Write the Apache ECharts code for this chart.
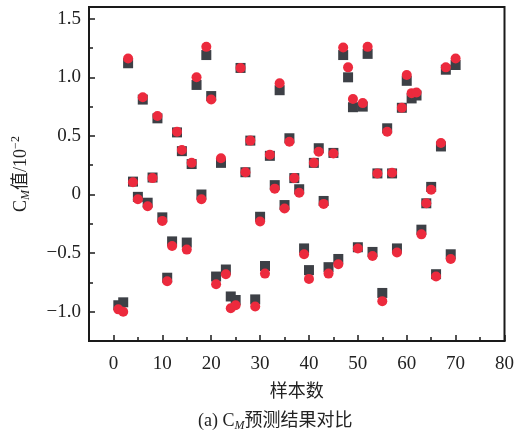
<!DOCTYPE html>
<html>
<head>
<meta charset="utf-8">
<script src="https://cdn.jsdelivr.net/npm/echarts@6/dist/echarts.min.js"></script>
<style>
html, body { margin: 0; padding: 0; background: #fff; }
#main { width: 517px; height: 430px; }
</style>
</head>
<body>
<div id="main"></div>
<script>
// C_M values, sample 1..70
var measured = [-0.945, -0.92, 1.12, 0.11, -0.02, 0.81, -0.07, 0.145, 0.65, -0.195,
    -0.71, -0.40, 0.53, 0.37, -0.41, 0.26, 0.935, 0.0, 1.19, 0.84,
    -0.70, 0.27, -0.64, -0.87, -0.90, 1.08, 0.19, 0.46, -0.895, -0.19,
    -0.61, 0.33, 0.08, 0.89, -0.09, 0.48, 0.14, 0.045, -0.46, -0.645,
    0.27, 0.395, -0.055, -0.62, 0.355, -0.55, 1.19, 1.0, 0.745, -0.45,
    0.75, 1.20, -0.49, 0.18, -0.84, 0.565, 0.18, -0.46, 0.74, 0.97,
    0.82, 0.845, -0.30, -0.075, 0.065, -0.68, 0.41, 1.065, -0.51, 1.105];
var predicted = [-0.98, -1.0, 1.16, 0.105, -0.04, 0.83, -0.10, 0.14, 0.67, -0.225,
    -0.74, -0.44, 0.535, 0.38, -0.47, 0.27, 1.0, -0.04, 1.26, 0.81,
    -0.765, 0.31, -0.68, -0.97, -0.945, 1.08, 0.19, 0.46, -0.955, -0.23,
    -0.675, 0.34, 0.05, 0.95, -0.12, 0.45, 0.14, 0.015, -0.51, -0.72,
    0.27, 0.365, -0.08, -0.675, 0.35, -0.595, 1.255, 1.085, 0.815, -0.46,
    0.78, 1.26, -0.525, 0.18, -0.91, 0.535, 0.185, -0.495, 0.74, 1.02,
    0.865, 0.87, -0.34, -0.075, 0.04, -0.70, 0.44, 1.085, -0.55, 1.16];
var xTicks = [0, 10, 20, 30, 40, 50, 60, 70, 80];
var xMinorTicks = [5, 15, 25, 35, 45, 55, 65, 75];
var yTicks = [-1.0, -0.5, 0, 0.5, 1.0, 1.5];
var yMinorTicks = [-0.75, -0.25, 0.25, 0.75, 1.25];

function pairs(arr) {
    return arr.map(function (v, i) { return [i + 1, v]; });
}

var font = '"Liberation Serif", "Noto Sans CJK SC", serif';
var axisColor = '#1a1a1a';
var textColor = '#222';

var myChart = echarts.init(document.getElementById('main'));
option = {
    backgroundColor: '#fff',
    animation: false,
    title: {
        text: '(a) C{sub|M}预测结果对比',
        left: 193,
        top: 405,
        textStyle: {
            fontFamily: font,
            fontSize: 18,
            fontWeight: 'normal',
            color: textColor,
            rich: {
                sub: { fontFamily: font, fontSize: 12, fontStyle: 'italic', color: textColor, verticalAlign: 'bottom', padding: [10, 0, 0, 0] }
            }
        }
    },
    grid: {
        left: 89,
        right: 10,
        top: 7,
        bottom: 89,
        show: true,
        borderColor: axisColor,
        borderWidth: 2
    },
    xAxis: [{
        type: 'value',
        min: -5,
        max: 80,
        name: '样本数',
        nameLocation: 'middle',
        nameGap: 42,
        nameTextStyle: { fontFamily: font, fontSize: 18, color: textColor },
        splitLine: { show: false },
        axisLine: { show: true, onZero: false, lineStyle: { color: axisColor, width: 2 } },
        axisTick: { show: true, inside: true, length: 6, customValues: xTicks, lineStyle: { color: axisColor, width: 1.5 } },
        axisLabel: { customValues: xTicks, margin: 14, fontFamily: font, fontSize: 19, color: textColor }
    }, {
        // minor ticks only
        type: 'value',
        min: -5,
        max: 80,
        position: 'bottom',
        splitLine: { show: false },
        axisLine: { show: false, onZero: false },
        axisTick: { show: true, inside: true, length: 4, customValues: xMinorTicks, lineStyle: { color: axisColor, width: 1.5 } },
        axisLabel: { show: false }
    }],
    yAxis: [{
        type: 'value',
        min: -1.25,
        max: 1.6,
        name: 'C{sub|M}值/10{sup|−2}',
        nameLocation: 'middle',
        nameGap: 57,
        nameTextStyle: {
            fontFamily: font,
            fontSize: 18,
            color: textColor,
            rich: {
                sub: { fontFamily: font, fontSize: 12, fontStyle: 'italic', color: textColor, verticalAlign: 'bottom', padding: [10, 0, 0, 0] },
                sup: { fontFamily: font, fontSize: 12, color: textColor, verticalAlign: 'top', padding: [0, 0, 10, 0] }
            }
        },
        splitLine: { show: false },
        axisLine: { show: true, onZero: false, lineStyle: { color: axisColor, width: 2 } },
        axisTick: { show: true, inside: true, length: 6, customValues: yTicks, lineStyle: { color: axisColor, width: 1.5 } },
        axisLabel: {
            customValues: yTicks,
            margin: 8,
            fontFamily: font,
            fontSize: 19,
            color: textColor,
            formatter: function (v) {
                var s = v === 0 ? '0' : v.toFixed(1);
                return s.replace('-', '−');
            }
        }
    }, {
        // minor ticks only
        type: 'value',
        min: -1.25,
        max: 1.6,
        position: 'left',
        splitLine: { show: false },
        axisLine: { show: false, onZero: false },
        axisTick: { show: true, inside: true, length: 4, customValues: yMinorTicks, lineStyle: { color: axisColor, width: 1.5 } },
        axisLabel: { show: false }
    }],
    series: [{
        name: '实际值',
        type: 'scatter',
        symbol: 'rect',
        symbolSize: 10,
        itemStyle: { color: '#3d4046', opacity: 1 },
        data: pairs(measured)
    }, {
        name: '预测值',
        type: 'scatter',
        symbol: 'circle',
        symbolSize: 10,
        itemStyle: { color: '#ec2a3d', opacity: 1 },
        data: pairs(predicted)
    }]
};

myChart.setOption(option);
window.onresize = myChart.resize;
</script>
</body>
</html>
